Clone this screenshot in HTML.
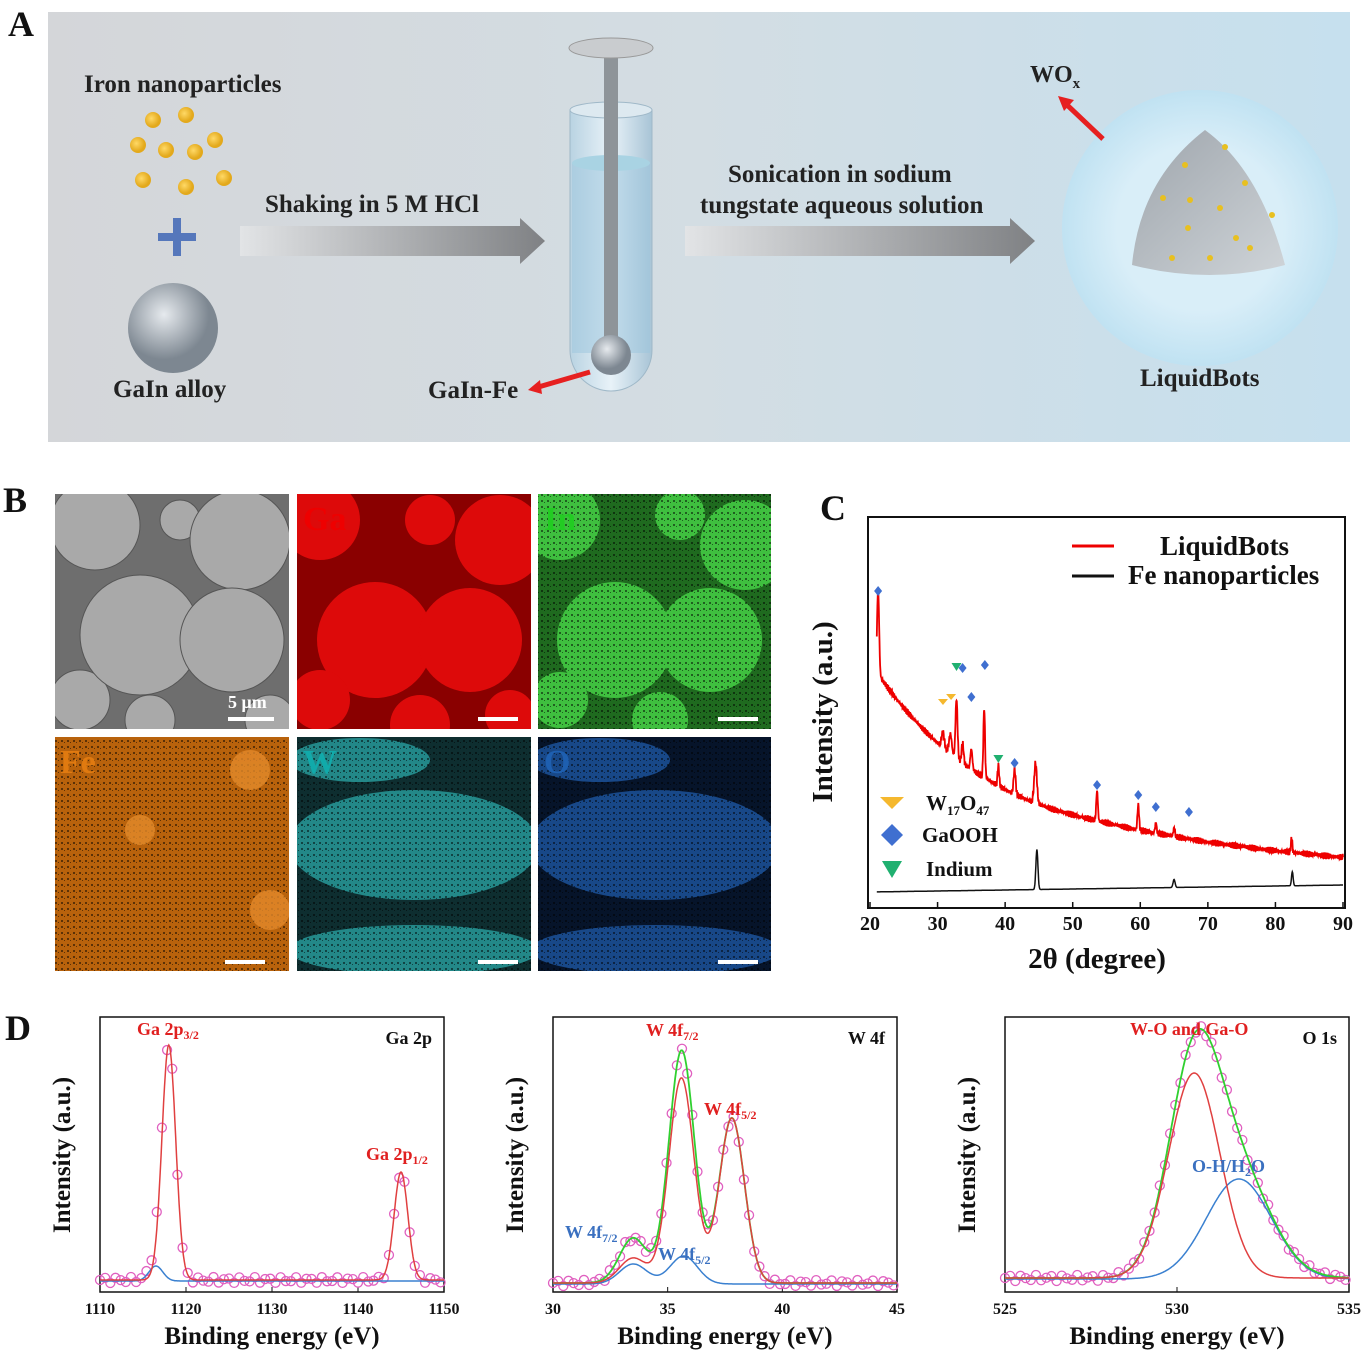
<!DOCTYPE html>
<html><head><meta charset="utf-8"><style>
body{margin:0;background:#fff}
svg{display:block}
text{font-family:"Liberation Serif",serif;font-weight:bold}
</style></head><body>
<svg id="s" width="1367" height="1358" viewBox="0 0 1367 1358" xmlns="http://www.w3.org/2000/svg">
<defs>
<linearGradient id="bgA" x1="0" x2="1"><stop offset="0" stop-color="#d4d6d9"/><stop offset="0.5" stop-color="#d3dde3"/><stop offset="1" stop-color="#c6e0ee"/></linearGradient>
<linearGradient id="arr" x1="0" x2="1"><stop offset="0" stop-color="#e2e4e6"/><stop offset="1" stop-color="#7f8184"/></linearGradient>
<radialGradient id="sph" cx="0.4" cy="0.35"><stop offset="0" stop-color="#e6eaee"/><stop offset="1" stop-color="#7d8791"/></radialGradient>
<radialGradient id="big" cx="0.5" cy="0.5"><stop offset="0.6" stop-color="#d9eef8"/><stop offset="1" stop-color="#c0e2f2"/></radialGradient>
<radialGradient id="dot" cx="0.4" cy="0.4"><stop offset="0" stop-color="#ffd966"/><stop offset="1" stop-color="#e3a91c"/></radialGradient>
<linearGradient id="tube" x1="0" x2="1"><stop offset="0" stop-color="#b9d3e2"/><stop offset="0.5" stop-color="#e8f2f8"/><stop offset="1" stop-color="#a8c4d6"/></linearGradient>
<linearGradient id="pyr" x1="0" x2="1" y1="0" y2="1"><stop offset="0" stop-color="#9ea5ac"/><stop offset="1" stop-color="#cfd4d8"/></linearGradient>
<pattern id="nz" width="6" height="6" patternUnits="userSpaceOnUse"><rect x="1" y="2" width="2" height="2" fill="#000" opacity="0.5"/><rect x="4" y="4" width="1" height="1" fill="#000" opacity="0.5"/></pattern>
<clipPath id="c1"><rect x="55" y="494" width="234" height="235"/></clipPath>
<clipPath id="c2"><rect x="297" y="494" width="234" height="235"/></clipPath>
<clipPath id="c3"><rect x="538" y="494" width="233" height="235"/></clipPath>
<clipPath id="c4"><rect x="55" y="737" width="234" height="234"/></clipPath>
<clipPath id="c5"><rect x="297" y="737" width="234" height="234"/></clipPath>
<clipPath id="c6"><rect x="538" y="737" width="233" height="234"/></clipPath>
</defs>
<!-- Panel A -->
<rect x="48" y="12" width="1302" height="430" fill="url(#bgA)"/>
<text x="8" y="36" font-size="36" fill="#111">A</text>
<text x="84" y="92" font-size="25" fill="#222">Iron nanoparticles</text>
<g fill="url(#dot)">
<circle cx="153" cy="120" r="8"/><circle cx="186" cy="115" r="8"/><circle cx="138" cy="145" r="8"/><circle cx="166" cy="150" r="8"/><circle cx="195" cy="152" r="8"/><circle cx="215" cy="140" r="8"/><circle cx="143" cy="180" r="8"/><circle cx="186" cy="187" r="8"/><circle cx="224" cy="178" r="8"/></g>
<rect x="158" y="233" width="38" height="8" fill="#5577bb"/><rect x="173" y="218" width="8" height="38" fill="#5577bb"/>
<circle cx="173" cy="328" r="45" fill="url(#sph)"/>
<text x="113" y="397" font-size="25" fill="#222">GaIn alloy</text>
<polygon points="240,226 520,226 520,218 545,241 520,264 520,256 240,256" fill="url(#arr)"/>
<text x="265" y="212" font-size="25" fill="#222">Shaking in 5 M HCl</text>
<path d="M570 110 L570 350 A41 41 0 0 0 652 350 L652 110 Z" fill="url(#tube)" stroke="#9fb8c8"/>
<ellipse cx="611" cy="110" rx="41" ry="8" fill="#dde9f0" stroke="#9fb8c8"/>
<rect x="572" y="163" width="78" height="190" fill="#9cc6dd" opacity="0.5"/>
<ellipse cx="611" cy="163" rx="39" ry="8" fill="#a9d3e3"/>
<rect x="604" y="55" width="14" height="285" fill="#8e9499"/>
<ellipse cx="611" cy="48" rx="42" ry="10" fill="#c9cccf" stroke="#999"/>
<circle cx="611" cy="355" r="20" fill="url(#sph)"/>
<line x1="590" y1="372" x2="535" y2="388" stroke="#e62020" stroke-width="5"/>
<polygon points="528,390 540,380 542,394" fill="#e62020"/>
<text x="428" y="398" font-size="25" fill="#222">GaIn-Fe</text>
<polygon points="685,226 1010,226 1010,218 1035,241 1010,264 1010,256 685,256" fill="url(#arr)"/>
<text x="728" y="182" font-size="25" fill="#222">Sonication in sodium</text>
<text x="700" y="213" font-size="25" fill="#222">tungstate aqueous solution</text>
<circle cx="1200" cy="228" r="138" fill="url(#big)"/>
<path d="M1205 130 Q1260 170 1285 265 Q1210 285 1132 265 Q1140 180 1205 130 Z" fill="url(#pyr)"/>
<g fill="#e8c020"><circle cx="1185" cy="165" r="3"/><circle cx="1225" cy="147" r="3"/><circle cx="1245" cy="183" r="3"/><circle cx="1190" cy="200" r="3"/><circle cx="1220" cy="208" r="3"/><circle cx="1163" cy="198" r="3"/><circle cx="1272" cy="215" r="3"/><circle cx="1188" cy="228" r="3"/><circle cx="1236" cy="238" r="3"/><circle cx="1172" cy="258" r="3"/><circle cx="1210" cy="258" r="3"/><circle cx="1250" cy="248" r="3"/></g>
<line x1="1103" y1="139" x2="1065" y2="103" stroke="#e62020" stroke-width="5"/>
<polygon points="1058,96 1074,100 1064,111" fill="#e62020"/>
<text x="1030" y="82" font-size="24" fill="#222">WO<tspan font-size="15" dy="6">x</tspan></text>
<text x="1140" y="386" font-size="25" fill="#222">LiquidBots</text>
<!-- Panel B -->
<text x="3" y="512" font-size="36" fill="#111">B</text>
<g clip-path="url(#c1)">
<rect x="55" y="494" width="234" height="235" fill="#6e6e6e"/>
<g fill="#a9a9a9" stroke="#555"><circle cx="95" cy="525" r="45"/><circle cx="180" cy="520" r="20"/><circle cx="240" cy="540" r="50"/><circle cx="80" cy="700" r="30"/><circle cx="140" cy="635" r="60"/><circle cx="232" cy="640" r="52"/><circle cx="150" cy="720" r="25"/><circle cx="270" cy="720" r="25"/></g>
</g>
<rect x="228" y="717" width="46" height="4" fill="#fff"/><text x="228" y="708" font-size="18" fill="#fff" font-weight="normal">5 μm</text>
<g clip-path="url(#c2)">
<rect x="297" y="494" width="234" height="235" fill="#8a0000"/>
<g fill="#dd0a0a"><circle cx="320" cy="520" r="40"/><circle cx="430" cy="520" r="25"/><circle cx="500" cy="540" r="45"/><circle cx="375" cy="640" r="58"/><circle cx="470" cy="640" r="52"/><circle cx="320" cy="700" r="30"/><circle cx="420" cy="725" r="30"/><circle cx="510" cy="715" r="25"/></g>
</g>
<text x="303" y="530" font-size="34" fill="#e00">Ga</text><rect x="478" y="717" width="40" height="4" fill="#fff"/>
<g clip-path="url(#c3)">
<rect x="538" y="494" width="233" height="235" fill="#1f6a1f"/>
<g fill="#3fbf3f"><circle cx="560" cy="520" r="40"/><circle cx="680" cy="515" r="25"/><circle cx="745" cy="545" r="45"/><circle cx="615" cy="640" r="58"/><circle cx="710" cy="640" r="52"/><circle cx="560" cy="700" r="28"/><circle cx="660" cy="720" r="28"/></g>
<rect x="538" y="494" width="233" height="235" fill="url(#nz)"/>
</g>
<text x="544" y="530" font-size="34" fill="#2c2">In</text><rect x="718" y="717" width="40" height="4" fill="#fff"/>
<g clip-path="url(#c4)">
<rect x="55" y="737" width="234" height="234" fill="#b8620c"/>
<rect x="55" y="737" width="234" height="234" fill="url(#nz)"/>
<g fill="#e38a2a" opacity="0.8"><circle cx="250" cy="770" r="20"/><circle cx="140" cy="830" r="15"/><circle cx="270" cy="910" r="20"/></g>
</g>
<text x="60" y="773" font-size="34" fill="#e07a10">Fe</text><rect x="225" y="960" width="40" height="4" fill="#fff"/>
<g clip-path="url(#c5)">
<rect x="297" y="737" width="234" height="234" fill="#0e2e30"/>
<g fill="#2aa6a6" opacity="0.75"><ellipse cx="414" cy="845" rx="125" ry="55"/><ellipse cx="414" cy="950" rx="125" ry="25"/><ellipse cx="360" cy="760" rx="70" ry="22"/></g>
<rect x="297" y="737" width="234" height="234" fill="url(#nz)"/>
</g>
<text x="303" y="773" font-size="34" fill="#1aa">W</text><rect x="478" y="960" width="40" height="4" fill="#fff"/>
<g clip-path="url(#c6)">
<rect x="538" y="737" width="233" height="234" fill="#06142a"/>
<g fill="#1f5aa8" opacity="0.75"><ellipse cx="655" cy="845" rx="125" ry="55"/><ellipse cx="655" cy="950" rx="125" ry="25"/><ellipse cx="600" cy="760" rx="70" ry="22"/></g>
<rect x="538" y="737" width="233" height="234" fill="url(#nz)"/>
</g>
<text x="544" y="773" font-size="34" fill="#1e5fb0">O</text><rect x="718" y="960" width="40" height="4" fill="#fff"/>
<!-- Panel C -->
<text x="820" y="520" font-size="36" fill="#111">C</text>
<rect x="868" y="517" width="477" height="391" fill="none" stroke="#111" stroke-width="2"/>
<g id="cC"></g>
<text x="832" y="712" font-size="29" fill="#111" transform="rotate(-90 832 712)" text-anchor="middle">Intensity (a.u.)</text>
<text x="1097" y="968" font-size="29" fill="#111" text-anchor="middle">2θ (degree)</text>
<line x1="1072" y1="546" x2="1114" y2="546" stroke="#e00" stroke-width="3"/><text x="1160" y="555" font-size="27" fill="#111">LiquidBots</text>
<line x1="1072" y1="576" x2="1114" y2="576" stroke="#111" stroke-width="3"/><text x="1128" y="584" font-size="27" fill="#111">Fe nanoparticles</text>
<polygon points="880,797 904,797 892,809" fill="#f5b82e"/><text x="926" y="810" font-size="21" fill="#111">W<tspan font-size="13" dy="5">17</tspan><tspan dy="-5">O</tspan><tspan font-size="13" dy="5">47</tspan></text>
<polygon points="892,824 903,835 892,846 881,835" fill="#3f6fd0"/><text x="922" y="842" font-size="21" fill="#111">GaOOH</text>
<polygon points="882,861 902,861 892,878" fill="#20b070"/><text x="926" y="876" font-size="21" fill="#111">Indium</text>
<!-- Panel D -->
<text x="5" y="1040" font-size="36" fill="#111">D</text>
<g id="dD"></g>
</svg>
<script>
const NS="http://www.w3.org/2000/svg";
function el(p,t,a,txt){const e=document.createElementNS(NS,t);for(const k in a)e.setAttribute(k,a[k]);if(txt!==undefined)e.textContent=txt;document.getElementById(p).appendChild(e);return e;}
function g(x,c,w){return Math.exp(-((x-c)*(x-c))/(2*w*w));}
(function(){
const X=d=>870+(d-20)*(473/70);
let pr="",pb="";
const rp=[[21.2,85,0.15],[30.8,15,0.2],[31.9,20,0.2],[32.8,60,0.15],[33.7,20,0.15],[35,20,0.15],[36.9,70,0.12],[39,20,0.12],[41.4,25,0.15],[44.5,40,0.2],[53.6,30,0.12],[59.7,25,0.12],[62.3,10,0.12],[65,8,0.12],[82.4,15,0.1]];
for(let d=21;d<=90;d+=0.05){
 let base=852-(d<46?(180*Math.exp(-(d-21)/18)):(70*Math.exp(-(d-46)/35)+ (180*Math.exp(-25/18)-70)));
 let y=base+Math.sin(d*37)*2+Math.sin(d*91)*1.5;
 for(const p of rp) y-=p[1]*g(d,p[0],p[2]);
 pr+=(pr?"L":"M")+X(d).toFixed(1)+" "+y.toFixed(1);
 let yb=892-0.1*(d-20)-40*g(d,44.7,0.15)-8*g(d,65,0.15)-14*g(d,82.5,0.12);
 pb+=(pb?"L":"M")+X(d).toFixed(1)+" "+yb.toFixed(1);
}
el("cC","path",{d:pr,fill:"none",stroke:"#e00","stroke-width":1.8});
el("cC","path",{d:pb,fill:"none",stroke:"#111","stroke-width":1.5});
const mk=[[21.2,591,"d"],[30.8,702,"w"],[32,697,"w"],[32.8,667,"i"],[33.7,668,"d"],[35,697,"d"],[37,665,"d"],[39,759,"i"],[41.4,763,"d"],[53.6,785,"d"],[59.7,795,"d"],[62.3,807,"d"],[67.2,812,"d"]];
for(const m of mk){const x=X(m[0]),y=m[1];
 if(m[2]=="d")el("cC","polygon",{points:`${x},${y-5} ${x+4},${y} ${x},${y+5} ${x-4},${y}`,fill:"#3f6fd0"});
 else if(m[2]=="w")el("cC","polygon",{points:`${x-5},${y-3} ${x+5},${y-3} ${x},${y+3}`,fill:"#f5b82e"});
 else el("cC","polygon",{points:`${x-5},${y-4} ${x+5},${y-4} ${x},${y+4}`,fill:"#20b070"});}
for(let v=20;v<=90;v+=10){const x=X(v);el("cC","line",{x1:x,y1:908,x2:x,y2:902,stroke:"#111","stroke-width":1.5});el("cC","text",{x:x,y:930,"font-size":20,"text-anchor":"middle",fill:"#111"},v);}
})();
function plot(x0,x1,a,b,ticks,peaks,blue,greenOn,labels,title,bl){
 const y0=1017,y1=1292,X=v=>x0+(v-a)/(b-a)*(x1-x0);
 el("dD","rect",{x:x0,y:y0,width:x1-x0,height:y1-y0,fill:"none",stroke:"#111","stroke-width":1.5});
 for(const t of ticks){el("dD","line",{x1:X(t),y1:y1,x2:X(t),y2:y1-5,stroke:"#111"});el("dD","text",{x:X(t),y:y1+22,"font-size":16,"text-anchor":"middle",fill:"#111"},t);}
 el("dD","text",{x:(x0+x1)/2,y:1344,"font-size":25,"text-anchor":"middle",fill:"#111"},"Binding energy (eV)");
 el("dD","text",{x:x0-30,y:1155,"font-size":25,"text-anchor":"middle",fill:"#111",transform:`rotate(-90 ${x0-30} 1155)`},"Intensity (a.u.)");
 el("dD","text",{x:x1-12,y:1044,"font-size":18,"text-anchor":"end",fill:"#111"},title);
 let pr="",pg="",pts=[];
 for(let i=0;i<=400;i++){const v=a+(b-a)*i/400;let yr=bl,yg=bl;
  for(const p of peaks) yr-=p[1]*g(v,p[0],p[2]);
  for(const p of blue) yg-=p[1]*g(v,p[0],p[2]);
  const tot=yr+yg-bl;
  pr+=(i?"L":"M")+X(v).toFixed(1)+" "+yr.toFixed(1);
  pg+=(i?"L":"M")+X(v).toFixed(1)+" "+tot.toFixed(1);
  if(i%6==0)pts.push([X(v),tot+Math.sin(i*1.7)*3]);}
 let pb="";for(let i=0;i<=400;i++){const v=a+(b-a)*i/400;let y=bl+1;for(const p of blue)y-=p[1]*g(v,p[0],p[2]);pb+=(i?"L":"M")+X(v).toFixed(1)+" "+y.toFixed(1);}
 for(const p of pts)el("dD","circle",{cx:p[0],cy:p[1],r:4.5,fill:"none",stroke:"#e060c0","stroke-width":1.3});
 el("dD","path",{d:pb,fill:"none",stroke:"#3a80d0","stroke-width":1.5});
 if(greenOn)el("dD","path",{d:pg,fill:"none",stroke:"#30d030","stroke-width":1.8});
 el("dD","path",{d:pr,fill:"none",stroke:"#e04040","stroke-width":1.5});
 for(const l of labels){const t=el("dD","text",{x:l[0],y:l[1],"font-size":18,fill:l[2]});t.innerHTML=l[3];}
}
plot(100,444,1110,1150,[1110,1120,1130,1140,1150],[[1118,235,0.8],[1145,108,0.8]],[[1116.5,15,0.8]],false,
 [[137,1035,"#e02020","Ga 2p<tspan font-size='12' dy='4'>3/2</tspan>"],[366,1160,"#e02020","Ga 2p<tspan font-size='12' dy='4'>1/2</tspan>"]],"Ga 2p",1280);
plot(553,897,30,45,[30,35,40,45],[[35.6,205,0.55],[37.8,165,0.55],[33.5,25,0.6]],[[33.5,20,0.6],[35.7,28,0.6]],true,
 [[646,1036,"#e02020","W 4f<tspan font-size='12' dy='4'>7/2</tspan>"],[704,1115,"#e02020","W 4f<tspan font-size='12' dy='4'>5/2</tspan>"],[565,1238,"#3a70c0","W 4f<tspan font-size='12' dy='4'>7/2</tspan>"],[658,1260,"#3a70c0","W 4f<tspan font-size='12' dy='4'>5/2</tspan>"]],"W 4f",1283);
plot(1005,1349,525,535,[525,530,535],[[530.5,205,0.75]],[[531.8,100,0.95]],true,
 [[1130,1035,"#e02020","W-O and Ga-O"],[1192,1172,"#3a70c0","O-H/H<tspan font-size='12' dy='4'>2</tspan><tspan dy='-4'>O</tspan>"]],"O 1s",1278);
</script>
</body></html>
